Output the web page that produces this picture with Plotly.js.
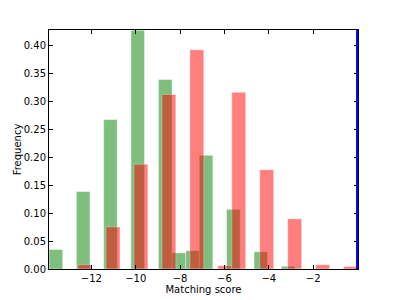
<!DOCTYPE html>
<html>
<head>
<meta charset="utf-8">
<script src="https://cdn.plot.ly/plotly-3.0.1.min.js"></script>
<style>html,body{margin:0;padding:0;background:#fff;}#chart{width:400px;height:300px;}</style>
</head>
<body>
<div id="chart"></div>
<script>
// Green histogram (bin width ~0.616), bin centers and normalized frequencies
const greenCenters = [-13.60, -12.37, -11.14, -9.91, -8.67, -8.06, -7.44, -6.83, -5.60, -4.36, -3.13];
const greenFreq    = [0.035, 0.139, 0.268, 0.428, 0.340, 0.029, 0.033, 0.204, 0.107, 0.031, 0.005];
const greenBinWidth = 0.616;

// Red histogram (bin width ~0.63)
const redCenters = [-12.285, -11.025, -9.765, -8.505, -7.245, -5.985, -5.355, -4.095, -2.835, -1.575, -0.315];
const redFreq    = [0.0077, 0.0755, 0.188, 0.313, 0.393, 0.006, 0.317, 0.178, 0.090, 0.0077, 0.0046];
const redBinWidth = 0.63;

// Vertical marker
const markerX = 0;

const xTicks = [-12, -10, -8, -6, -4, -2];
const yTicks = [0, 0.05, 0.10, 0.15, 0.20, 0.25, 0.30, 0.35, 0.40];

const font = {family: 'DejaVu Sans, sans-serif', size: 10, color: '#000'};

const traces = [
  {
    type: 'bar', x: greenCenters, y: greenFreq,
    width: greenCenters.map(() => greenBinWidth),
    marker: {color: 'rgb(0,128,0)', opacity: 0.5, line: {color: 'rgba(255,255,255,0.6)', width: 0.8}},
    hoverinfo: 'skip'
  },
  {
    type: 'bar', x: redCenters, y: redFreq,
    width: redCenters.map(() => redBinWidth),
    marker: {color: 'rgb(255,0,0)', opacity: 0.5, line: {color: 'rgba(255,255,255,0.6)', width: 0.8}},
    hoverinfo: 'skip'
  }
];

const layout = {
  width: 400, height: 300,
  margin: {l: 49, r: 42, t: 30, b: 31, pad: 0},
  paper_bgcolor: '#fff', plot_bgcolor: '#fff',
  barmode: 'overlay',
  showlegend: false,
  font: font,
  xaxis: {
    range: [-13.91, 0.02],
    tickvals: xTicks,
    ticktext: xTicks.map(v => v < 0 ? '\u2212' + Math.abs(v) : String(v)),
    ticks: 'inside', ticklen: 4, tickwidth: 1, tickcolor: '#000',
    showline: true, linecolor: '#000', linewidth: 1, mirror: 'ticks',
    showgrid: false, zeroline: false,
    tickfont: font,
    title: {text: 'Matching score', font: font, standoff: 0}
  },
  yaxis: {
    range: [0, 0.4286],
    tickvals: yTicks,
    ticktext: yTicks.map(v => v.toFixed(2)),
    ticks: 'inside', ticklen: 4, tickwidth: 1, tickcolor: '#000',
    showline: true, linecolor: '#000', linewidth: 1, mirror: 'ticks',
    showgrid: false, zeroline: false,
    tickfont: font,
    title: {text: 'Frequency', font: font, standoff: 0}
  },
  shapes: [{
    type: 'line', xref: 'x', yref: 'paper',
    x0: markerX, x1: markerX, y0: 0, y1: 1,
    line: {color: 'rgb(0,0,255)', width: 3}
  }]
};

Plotly.newPlot('chart', traces, layout, {staticPlot: true, displayModeBar: false});
</script>
</body>
</html>
